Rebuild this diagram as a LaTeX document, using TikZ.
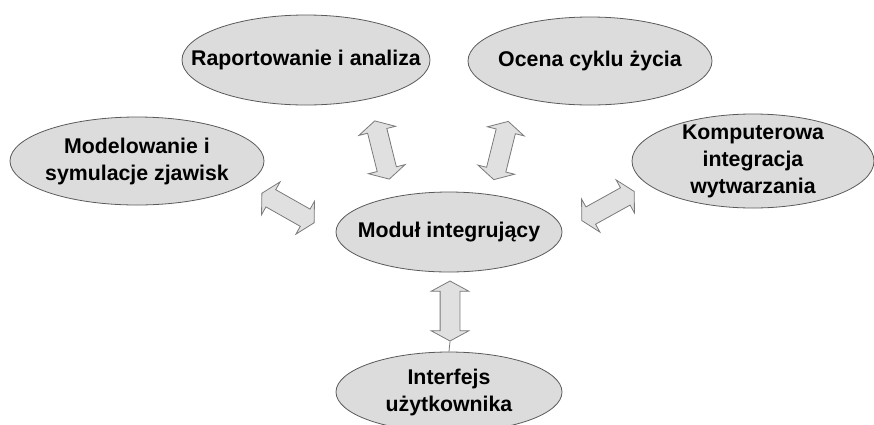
\documentclass[tikz,border=0pt]{standalone}
\usepackage{fontspec}
\setmainfont{Liberation Sans}
\usetikzlibrary{shapes.geometric, shapes.arrows}

\definecolor{owal}{HTML}{DCDCDC}
\definecolor{ramka}{HTML}{5A5A5A}
\definecolor{strzal}{HTML}{E0E0E0}
\definecolor{strzalramka}{HTML}{7A7A7A}

\tikzset{
  blok/.style={ellipse, draw=ramka, fill=owal, line width=0.8pt,
    inner xsep=-40pt, inner ysep=-15pt,
    align=center, font=\fontsize{21.3}{27}\selectfont\bfseries},
  dwustrz/.style={double arrow, draw=strzalramka, fill=strzal, line width=0.8pt,
    inner xsep=0pt, inner ysep=9.5pt, minimum height=60pt, minimum width=37pt,
    double arrow head extend=9pt, double arrow tip angle=123},
}

\begin{document}
\begin{tikzpicture}[x=1pt, y=1pt]
  \useasboundingbox (0,0) rectangle (874,-424);
  \clip (0,0) rectangle (874,-424);
  % moduly
  \node[blok, minimum width=248pt, minimum height=90pt] (raport) at (306,-60) {Raportowanie i analiza};
  \node[blok, minimum width=244pt, minimum height=88pt] (ocena) at (590,-61) {Ocena cyklu życia};
  \node[blok, minimum width=254pt, minimum height=88pt] (model) at (137,-161) {Modelowanie i\\symulacje zjawisk};
  \node[blok, minimum width=242pt, minimum height=94pt] (komp) at (753,-161) {Komputerowa\\integracja\\wytwarzania};
  \node[blok, minimum width=226pt, minimum height=80pt] (modul) at (449,-232) {Moduł integrujący};
  \node[blok, minimum width=226pt, minimum height=80pt] (interf) at (449,-392) {Interfejs\\użytkownika};
  % strzalki
  \node[dwustrz, rotate=-29.5] (sModel) at (288,-208) {};
  \node[dwustrz, rotate=104] (sRaport) at (382,-150) {};
  \node[dwustrz, rotate=76] (sOcena) at (501,-150.5) {};
  \node[dwustrz, rotate=29] (sKomp) at (608,-206) {};
  \node[dwustrz, rotate=90] (sInterf) at (450,-311) {};
  \draw[strzalramka, line width=0.8pt] (sInterf.tip 2) -- (interf.north);
\end{tikzpicture}
\end{document}
